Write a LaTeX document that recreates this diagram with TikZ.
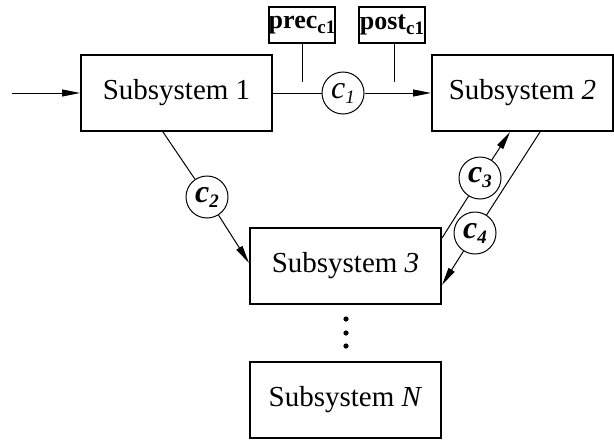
\documentclass[tikz,border=0pt]{standalone}
\usepackage{fontspec}
\setmainfont{Liberation Serif}
\usetikzlibrary{arrows.meta}
\newcommand{\lowsub}[1]{\raisebox{-2.5pt}{\fontsize{9.5}{9.5}\selectfont #1}}
\begin{document}
\begin{tikzpicture}[x=0.5pt,y=-0.5pt,
 sysbox/.style={draw,line width=1pt,minimum width=95.5pt,minimum height=38pt,inner sep=0pt,font=\fontsize{14.5}{16}\selectfont},
 condbox/.style={draw,line width=1pt,minimum width=33pt,minimum height=18pt,inner sep=0pt,font=\fontsize{13}{13}\selectfont\bfseries},
 chan/.style={draw,circle,line width=0.5pt,minimum size=21pt,inner sep=0pt,font=\fontsize{16}{16}\selectfont},
 conn/.style={line width=0.5pt},
 arr/.style={conn,-{Triangle[length=9pt,width=3.5pt]}},
 dotmark/.style={fill,circle,inner sep=0pt,minimum size=2.6pt}]
\useasboundingbox (0,0) rectangle (614,439);

% subsystems
\node[sysbox] (b1) at (176.5,93) {Subsystem 1};
\node[sysbox,minimum width=90.5pt] (b2) at (522.5,93) {Subsystem \textit{2}};
\node[sysbox] (b3) at (345.5,266) {Subsystem \textit{3}};
\node[sysbox] (bN) at (345.5,400) {Subsystem \textit{N}};

% condition boxes
\node[condbox] (prec) at (302,25) {prec\lowsub{c1}};
\node[condbox] (post) at (392,25) {post\lowsub{c1}};
\coordinate (pe) at (302,82);
\coordinate (qe) at (394,82);

% channels
\node[chan] (c1) at (343,93) {\textit{c}\lowsub{\textit{1}}};
\node[chan] (c2) at (207,197) {\textbf{\textit{c}}\lowsub{\textbf{\textit{2}}}};
\node[chan] (c3) at (480,178) {\textbf{\textit{c}}\lowsub{\textbf{\textit{3}}}};
\node[chan] (c4) at (475,233) {\textbf{\textit{c}}\lowsub{\textbf{\textit{4}}}};

% dots
\node[dotmark] (d1) at (346,319) {};
\node[dotmark] (d2) at (346,333) {};
\node[dotmark] (d3) at (346,346) {};

% connectors
\coordinate (in) at (12,93);
\draw[arr] (in) -- (b1.west);
\draw[conn] (b1.east) -- (c1);
\draw[arr] (c1) -- (b2.west);
\draw[conn] (prec.south) -- (pe);
\draw[conn] (post.south -| qe) -- (qe);

\draw[conn] ([xshift=-6.75pt]b1.south) -- (c2);
\draw[arr] (c2) -- ([yshift=1.5pt]b3.west);

\draw[conn] ([yshift=14pt]b3.east) -- (c3);
\draw[arr] (c3) -- ([xshift=-6.25pt]b2.south);

\draw[conn] ([xshift=8.75pt]b2.south) -- (c4);
\draw[arr] (c4) -- ([yshift=-9.5pt]b3.east);
\end{tikzpicture}
\end{document}
